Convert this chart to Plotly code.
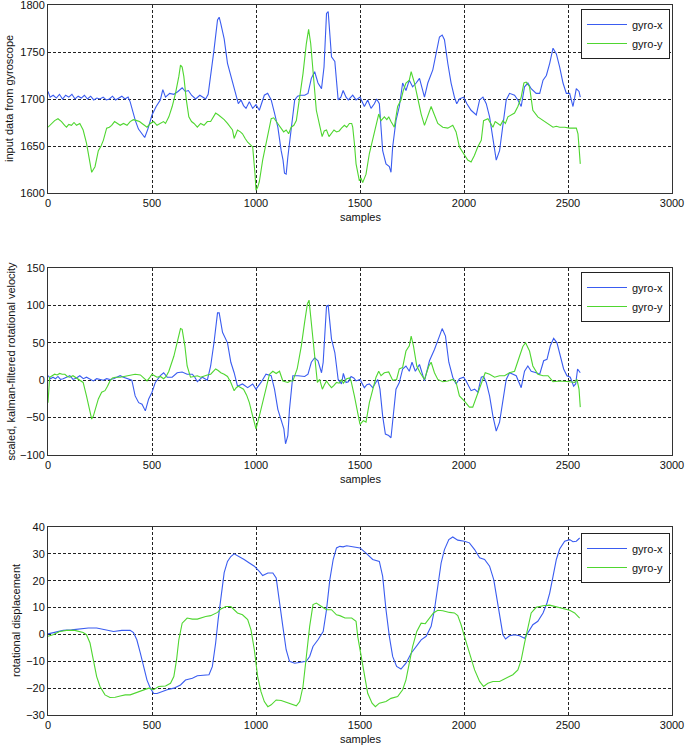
import plotly.graph_objects as go

# ---------------- data ----------------
# Panel 1: raw gyroscope input
raw_x_s = [0,10,25,40,55,70,85,100,115,130,145,160,175,190,205,220,235,250,265,280,295,310,325,340,355,370,385,
           395,405,420,435,450,465,480,500,520,540,552,565,585,605,625,645,660,675,690,710,730,745,758,770,782,798,
           815,823,831,847,863,879,895,915,928,940,952,968,984,1000,1016,1028,1040,1056,1073,1089,1105,1121,1130,
           1137,1145,1153,1169,1186,1200,1215,1234,1250,1266,1282,1298,1315,1327,1339,1347,1355,1363,1379,1395,1408,
           1419,1433,1444,1465,1481,1500,1521,1537,1553,1569,1580,1593,1601,1609,1625,1641,1649,1657,1673,1689,1705,
           1721,1737,1753,1770,1786,1810,1826,1850,1866,1882,1895,1906,1922,1938,1954,1965,1978,1998,2014,2034,2059,
           2075,2091,2107,2123,2139,2155,2171,2187,2203,2219,2243,2259,2275,2291,2307,2323,2347,2364,2380,2396,2412,
           2428,2444,2460,2476,2492,2508,2524,2540,2553,2559]
raw_x_v = [1708,1702,1704,1701,1705,1700,1704,1702,1705,1700,1703,1701,1704,1700,1703,1699,1701,1700,1702,1699,1700,
           1703,1699,1701,1703,1700,1702,1697,1688,1677,1668,1664,1659,1668,1683,1692,1699,1710,1702,1706,1705,1708,
           1712,1708,1709,1704,1700,1704,1702,1700,1705,1724,1752,1784,1787,1780,1764,1738,1724,1713,1695,1699,1693,
           1690,1697,1690,1694,1688,1695,1704,1706,1699,1685,1670,1645,1635,1621,1620,1638,1670,1699,1703,1704,1704,
           1706,1722,1729,1717,1711,1734,1791,1793,1773,1745,1740,1699,1702,1709,1702,1699,1704,1699,1702,1692,1699,
           1690,1695,1700,1695,1670,1645,1631,1628,1622,1649,1677,1692,1717,1709,1720,1713,1717,1722,1702,1717,1731,
           1747,1766,1768,1763,1738,1717,1702,1695,1700,1702,1695,1688,1683,1699,1702,1695,1681,1656,1635,1645,1670,
           1699,1706,1704,1699,1692,1713,1717,1711,1706,1706,1720,1725,1738,1754,1748,1734,1717,1706,1706,1692,1711,
           1708,1702]
raw_y_s = [0,16,32,48,65,80,89,100,113,125,137,153,169,185,198,210,218,226,242,255,266,282,295,306,320,331,347,363,
           380,395,410,427,440,452,465,476,492,508,524,540,555,565,581,597,613,629,637,645,653,665,677,690,702,718,734,
           750,766,782,806,820,831,847,863,875,887,895,903,911,925,935,948,960,975,984,995,1000,1008,1016,1032,1048,
           1060,1073,1085,1097,1110,1121,1133,1145,1157,1169,1182,1194,1210,1226,1242,1253,1263,1274,1290,1306,1318,
           1328,1339,1351,1363,1375,1387,1400,1411,1425,1436,1449,1460,1465,1473,1481,1497,1505,1513,1529,1545,1561,
           1577,1590,1601,1617,1629,1638,1649,1665,1681,1697,1708,1721,1737,1746,1762,1778,1794,1810,1826,1842,1858,
           1874,1898,1922,1946,1962,1978,2002,2018,2034,2050,2066,2083,2094,2115,2139,2150,2163,2175,2187,2199,2211,
           2227,2243,2259,2275,2288,2299,2315,2331,2355,2380,2404,2428,2444,2460,2484,2508,2540,2548,2553,2559]
raw_y_v = [1670,1674,1677,1679,1676,1672,1670,1673,1672,1675,1672,1674,1667,1653,1635,1622,1625,1628,1645,1650,1656,
           1669,1670,1672,1676,1674,1672,1674,1672,1676,1678,1677,1676,1674,1672,1670,1674,1676,1672,1674,1676,1674,
           1681,1692,1706,1724,1736,1734,1724,1699,1681,1676,1674,1670,1674,1672,1676,1676,1685,1683,1681,1678,1674,
           1670,1667,1658,1662,1667,1665,1663,1658,1654,1651,1649,1621,1603,1606,1612,1635,1653,1668,1679,1680,1676,
           1672,1669,1665,1667,1663,1670,1672,1677,1702,1727,1759,1774,1759,1727,1688,1672,1660,1666,1667,1660,1663,
           1667,1665,1666,1669,1672,1670,1674,1674,1670,1653,1631,1613,1616,1611,1620,1642,1656,1670,1684,1677,1681,
           1678,1681,1676,1670,1692,1699,1709,1717,1720,1729,1717,1699,1684,1672,1681,1692,1683,1674,1670,1669,1672,
           1665,1649,1640,1635,1633,1640,1649,1656,1677,1679,1670,1676,1674,1672,1677,1674,1681,1683,1685,1692,1702,
           1717,1718,1713,1688,1681,1677,1674,1670,1671,1670,1670,1669,1669,1663,1649,1631]

# Panel 2: scaled, kalman-filtered rotational velocity
vel_x_s = [0,12,24,36,48,60,73,89,105,120,137,153,170,185,202,218,234,250,266,282,298,315,331,347,363,379,395,403,
           419,436,452,468,484,500,516,540,556,573,597,621,645,669,694,706,718,742,766,782,798,815,823,839,863,879,
           895,911,935,960,984,1000,1024,1048,1073,1089,1105,1121,1134,1142,1153,1161,1177,1202,1234,1250,1266,1282,
           1298,1315,1323,1339,1347,1363,1379,1395,1411,1420,1433,1444,1457,1470,1481,1500,1521,1533,1545,1561,1585,
           1596,1609,1622,1638,1649,1662,1673,1689,1705,1721,1737,1750,1766,1786,1810,1834,1858,1882,1895,1911,1927,
           1946,1962,1978,1998,2010,2034,2051,2067,2083,2094,2107,2123,2139,2155,2171,2187,2203,2219,2235,2251,2275,
           2291,2307,2323,2347,2364,2383,2399,2415,2431,2447,2463,2479,2495,2511,2527,2537,2546,2556,2559]
vel_x_v = [6,2,4,2,5,1,2,4,6,1,3,6,2,4,1,-1,2,1,0,2,1,2,4,6,4,2,1,0,-21,-30,-32,-41,-25,-16,-3,6,10,4,4,10,11,8,8,
           4,-2,4,0,19,50,90,90,64,50,24,10,-8,-5,-10,-5,-12,-3,8,6,-12,-39,-52,-65,-85,-74,-39,6,6,5,8,24,30,26,10,
           24,99,100,55,37,1,-5,9,-3,-2,5,3,-1,1,-10,-6,-5,-10,1,-12,-48,-72,-74,-77,-43,-12,-3,15,19,12,24,12,21,-1,
           26,41,59,69,59,24,4,-5,2,4,-1,-14,-12,-16,4,5,-3,-21,-48,-68,-56,-25,1,10,8,6,-10,12,19,12,10,8,26,28,46,
           56,50,32,15,6,4,-8,-5,15,12,10]
vel_y_s = [0,4,8,20,32,44,56,68,81,93,105,120,137,153,169,185,202,210,218,226,242,258,274,286,298,310,323,347,371,
           395,419,444,460,476,488,500,512,524,540,556,568,581,605,624,637,645,658,669,685,702,718,734,750,766,782,
           806,818,831,847,863,879,895,905,915,928,940,955,968,984,1000,1016,1032,1048,1065,1081,1097,1113,1129,1141,
           1153,1165,1177,1198,1218,1234,1247,1255,1266,1279,1295,1306,1319,1329,1339,1351,1363,1375,1387,1400,1411,
           1420,1436,1450,1457,1473,1489,1500,1516,1529,1545,1561,1577,1590,1601,1617,1638,1657,1676,1689,1705,1721,
           1737,1746,1757,1773,1789,1810,1831,1842,1858,1874,1898,1922,1946,1962,1978,2002,2026,2042,2061,2083,2102,
           2123,2147,2171,2195,2219,2243,2267,2283,2296,2315,2331,2355,2380,2404,2428,2460,2508,2532,2543,2553,2559]
vel_y_v = [-30,0,4,6,8,7,9,8,8,5,4,6,3,-1,-3,-21,-43,-52,-48,-41,-25,-16,-14,-8,-1,3,4,4,5,7,8,7,3,-1,3,8,6,4,5,2,
           5,12,32,55,69,68,46,19,4,5,6,4,6,7,8,15,13,10,8,5,-3,-14,-10,-8,-10,-12,-20,-30,-48,-65,-48,-30,-12,8,12,9,
           12,-1,-2,-3,-1,-1,15,46,78,102,107,77,32,-3,1,-12,-6,-1,-6,-10,-7,-3,-4,1,-4,2,3,-1,-21,-43,-59,-54,-56,
           -30,-12,4,12,6,10,11,0,1,15,17,39,46,59,46,19,10,1,19,24,10,1,-2,-1,1,-3,-21,-28,-36,-36,-21,-3,10,8,4,6,
           6,10,12,32,45,50,39,19,8,6,6,-2,-1,-2,-3,1,-12,-36]

# Panel 3: rotational displacement
disp_x_s = [0,32,73,113,153,194,234,274,315,355,395,411,427,444,460,476,492,508,524,548,573,605,637,661,694,718,742,
            774,790,806,818,831,847,863,879,895,919,943,968,992,1016,1032,1057,1081,1097,1113,1129,1145,1161,1186,
            1218,1242,1258,1274,1298,1323,1339,1355,1371,1387,1403,1419,1436,1460,1500,1529,1561,1593,1609,1625,1641,
            1657,1676,1697,1721,1746,1770,1794,1818,1842,1858,1874,1890,1906,1927,1946,1970,2002,2026,2051,2075,2099,
            2123,2143,2159,2175,2187,2200,2219,2243,2267,2291,2307,2331,2355,2380,2399,2412,2428,2444,2460,2484,2508,
            2524,2540,2556]
disp_x_v = [0.2,0.7,1.5,1.7,2.0,2.4,2.4,1.7,1.1,1.5,1.5,0.7,-2,-7,-12,-17,-20,-22,-22,-21.3,-20.6,-20,-18.8,-17,
            -16.3,-15.4,-15.3,-15,-12,-3.2,5.5,14,23,27.2,29,30,29,27.9,26.6,25.4,23.5,21.9,22.9,22.9,21,12.9,3,-5.7,
            -10,-10.7,-10.4,-10,-8.2,-4.5,-2,1.1,9.2,20.4,27.9,32.2,32.8,32.6,33,32.6,32.2,30.3,27.9,27.2,21.6,9.2,
            -0.7,-8.2,-11.9,-12.9,-10.7,-7,-4.5,-2,-0.7,3,9.2,17.9,26.6,31.6,35.3,36.3,35.1,34.7,34.1,31.6,28.5,27.9,
            25.4,20.4,12.9,5.5,-0.1,-1.7,-0.5,-0.1,-0.5,-1.4,0.5,3.6,4.9,8,11.7,15.4,21.6,27.9,31.8,34.7,35.3,34.5,
            34.7,35.9]
disp_y_s = [0,24,56,89,129,169,185,202,218,234,250,274,298,323,347,371,395,427,460,484,508,532,565,589,605,618,629,
            645,669,694,718,734,758,782,815,831,855,879,895,911,935,960,976,992,1008,1024,1040,1057,1073,1097,1121,
            1153,1177,1194,1210,1226,1242,1258,1274,1290,1315,1339,1363,1387,1403,1428,1460,1481,1489,1500,1516,1537,
            1558,1574,1593,1625,1649,1681,1705,1721,1737,1753,1773,1794,1814,1834,1853,1874,1898,1930,1954,1970,1986,
            2002,2026,2051,2075,2094,2115,2139,2171,2203,2235,2259,2275,2291,2307,2323,2347,2380,2412,2444,2476,2508,
            2532,2556]
disp_y_v = [-0.7,-0.1,1.1,1.5,1.5,0.7,-0.1,-3.2,-9.5,-15.7,-19.4,-22.5,-23.5,-23.4,-22.9,-22.5,-22.5,-21.6,-20.6,
            -20,-20.6,-19.4,-19.2,-18.2,-15.7,-9.5,-2,4.2,6.1,5.7,5.7,6.1,6.7,7,8.2,9.5,10.4,10.4,9.2,8,7.3,5.5,1.7,
            -5.7,-15.7,-21.3,-25,-26.9,-26.2,-24.4,-24.6,-25.4,-25.9,-26.6,-25,-19.4,-8.2,3,11.1,11.7,10.4,9.2,9.2,
            7.3,7,6.1,6.1,4.9,-0.7,-5.7,-13.2,-21.9,-25.6,-26.9,-25.6,-25,-23.8,-23.1,-20.6,-16.9,-10.7,-4.5,1.1,4.2,
            4,6.1,8,9,8.8,8.2,8,7,3.6,-0.7,-7,-13.2,-17.5,-19.4,-18.2,-17.5,-17.5,-16.3,-15,-13.2,-9.5,-3.2,3,8,10.1,
            10.7,10.9,10.2,9.5,9,8,6.1]

x_ticks = [0, 500, 1000, 1500, 2000, 2500, 3000]
series_names = ["gyro-x", "gyro-y"]
y_titles = ["input data from gyroscope", "scaled, kalman-filtered rotational velocity", "rotational displacement"]
x_title = "samples"

# ---------------- styling ----------------
BLUE = "#3a5cf0"
GREEN = "#4fd630"
FONT = dict(family="Liberation Sans, Arial, sans-serif", size=11, color="#111")

W, H = 685, 748
ML, MR, MT, MB = 48, 13, 5, 33
PW, PH = W - ML - MR, H - MT - MB

def py(px):
    return 1 - (px - MT) / PH

def pxr(px):
    return (px - ML) / PW

panels = [
    dict(top=5, bot=193, yr=[1600, 1800], dy=50,
         data=[(raw_x_s, raw_x_v), (raw_y_s, raw_y_v)], leg_top=9, ytx=9),
    dict(top=268, bot=455, yr=[-100, 150], dy=50,
         data=[(vel_x_s, vel_x_v), (vel_y_s, vel_y_v)], leg_top=272, ytx=10),
    dict(top=527, bot=715, yr=[-30, 40], dy=10,
         data=[(disp_x_s, disp_x_v), (disp_y_s, disp_y_v)], leg_top=533, ytx=16),
]

fig = go.Figure()
layout = dict(width=W, height=H, margin=dict(l=ML, r=MR, t=MT, b=MB),
              paper_bgcolor="white", plot_bgcolor="white", font=FONT,
              showlegend=True, annotations=[])

grid = dict(showgrid=True, gridcolor="#222", gridwidth=1, griddash="3px,2px",
            showline=True, linecolor="#333", linewidth=1, mirror=True,
            zeroline=False, ticks="", automargin=False, tickfont=FONT,
            ticklabeloverflow="allow")

for i, p in enumerate(panels):
    k = "" if i == 0 else str(i + 1)
    leg = "legend" if i == 0 else "legend" + str(i + 1)
    for (s, v), name, col in zip(p["data"], series_names, [BLUE, GREEN]):
        fig.add_trace(go.Scatter(x=s, y=v, mode="lines", name=name,
                                 line=dict(color=col, width=1.1),
                                 xaxis="x" + k, yaxis="y" + k, legend=leg))
    layout["xaxis" + k] = dict(grid, domain=[0, 1], range=[0, 3000], tickvals=x_ticks,
                               anchor="y" + k)
    layout["yaxis" + k] = dict(grid, domain=[py(p["bot"]), py(p["top"])], range=p["yr"],
                               dtick=p["dy"], tick0=p["yr"][0], anchor="x" + k)
    layout[leg] = dict(x=pxr(670), xanchor="right", y=py(p["leg_top"]), yanchor="top",
                       xref="paper", yref="paper",
                       bgcolor="white", bordercolor="#222", borderwidth=1,
                       font=FONT, itemwidth=40, tracegroupgap=0)
    layout["annotations"].append(dict(text=y_titles[i], textangle=-90, showarrow=False,
                                      xref="paper", yref="paper", x=pxr(p["ytx"]),
                                      y=py((p["top"] + p["bot"]) / 2),
                                      xanchor="center", yanchor="middle", font=FONT))
    layout["annotations"].append(dict(text=x_title, showarrow=False, xref="paper", yref="paper",
                                      x=0.5, y=py(p["bot"] + 24), xanchor="center",
                                      yanchor="middle", font=FONT))

fig.update_layout(**layout)
fig.write_html("out.html", config={"displayModeBar": False},
               post_script="document.body.style.margin='0';document.body.style.padding='0';")
